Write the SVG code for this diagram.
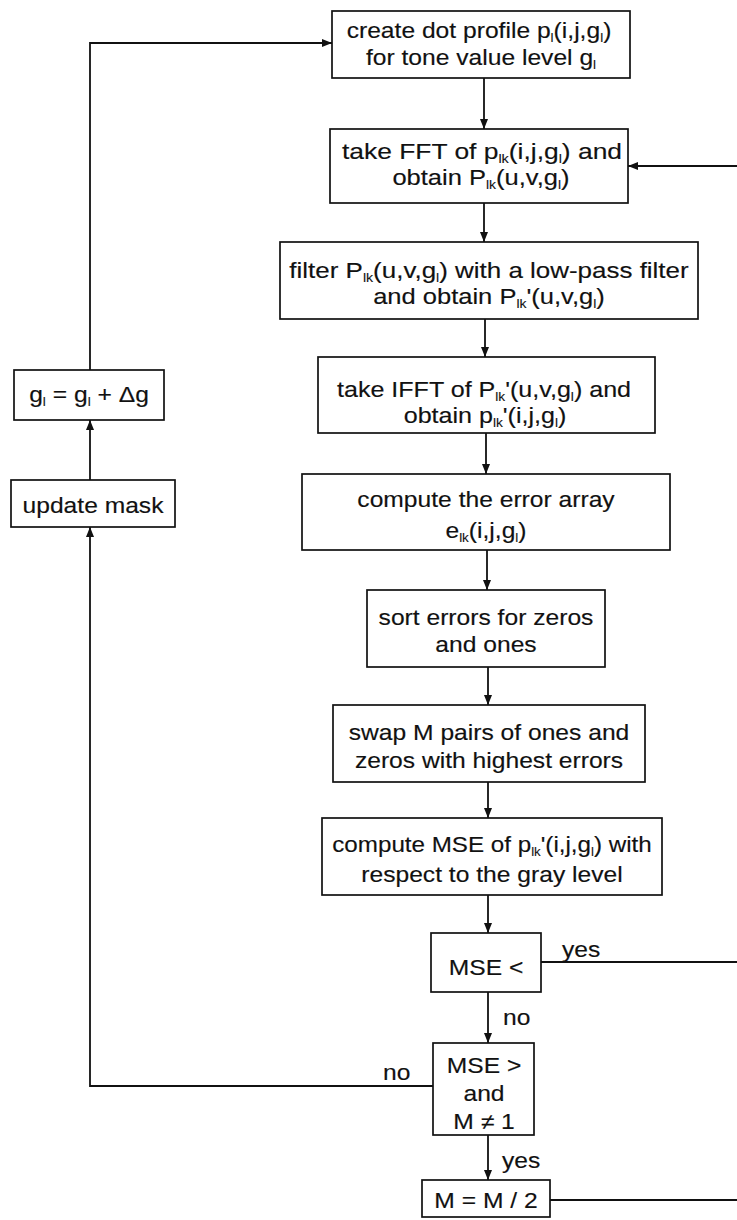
<svg xmlns="http://www.w3.org/2000/svg" width="737" height="1220" viewBox="0 0 737 1220">
  <style>
    .box { fill: #fff; stroke: #111; stroke-width: 1.7; }
    .wire { fill: none; stroke: #111; stroke-width: 1.8; }
    .t { font-family: "Liberation Sans", Arial, Helvetica, sans-serif; font-size: 22px; fill: #111; stroke: #111; stroke-width: 0.15; text-anchor: middle; }
    .lbl { font-family: "Liberation Sans", Arial, Helvetica, sans-serif; font-size: 22px; fill: #111; stroke: #111; stroke-width: 0.15; }
    .sb { font-size: 12px; stroke-width: 0.1; }
  </style>
  <defs>
    <marker id="arrow" markerWidth="10" markerHeight="8" refX="10" refY="4" orient="auto" markerUnits="userSpaceOnUse">
      <path d="M0,0 L10,4 L0,8 Z" fill="#111"/>
    </marker>
  </defs>
  <rect width="737" height="1220" fill="#fff"/>

  <!-- connectors -->
  <g id="connectors" class="wire">
    <path d="M484,78 V129" marker-end="url(#arrow)"/>
    <path d="M737,166 H628" marker-end="url(#arrow)"/>
    <path d="M484,203 V242" marker-end="url(#arrow)"/>
    <path d="M485,319 V357" marker-end="url(#arrow)"/>
    <path d="M486,433 V474" marker-end="url(#arrow)"/>
    <path d="M487,550 V590" marker-end="url(#arrow)"/>
    <path d="M488,667 V705" marker-end="url(#arrow)"/>
    <path d="M488,782 V818" marker-end="url(#arrow)"/>
    <path d="M488,895 V933" marker-end="url(#arrow)"/>
    <path d="M541,962 H737"/>
    <path d="M488,992 V1043" marker-end="url(#arrow)"/>
    <path d="M488,1135 V1180" marker-end="url(#arrow)"/>
    <path d="M550,1200 H737"/>
    <path d="M433,1086 H90 V527" marker-end="url(#arrow)"/>
    <path d="M90,480 V420" marker-end="url(#arrow)"/>
    <path d="M90,370 V43 H332" marker-end="url(#arrow)"/>
  </g>

  <!-- branch labels -->
  <g id="labels">
    <text class="lbl" transform="translate(562 957) scale(1.12 1)">yes</text>
    <text class="lbl" transform="translate(503 1025) scale(1.12 1)">no</text>
    <text class="lbl" transform="translate(383 1080) scale(1.12 1)">no</text>
    <text class="lbl" transform="translate(502 1168) scale(1.12 1)">yes</text>
  </g>

  <g id="create-profile">
    <rect class="box" x="332" y="11" width="298" height="67"/>
    <text class="t" transform="translate(479 38) scale(1.12 1)">create dot profile p<tspan class="sb" dy="4">l</tspan><tspan dy="-4">(i,j,g</tspan><tspan class="sb" dy="4">l</tspan><tspan dy="-4">)</tspan></text>
    <text class="t" transform="translate(481 65) scale(1.12 1)">for tone value level g<tspan class="sb" dy="4">l</tspan></text>
  </g>

  <g id="fft">
    <rect class="box" x="330" y="129" width="298" height="74"/>
    <text class="t" transform="translate(482 159) scale(1.2 1)">take FFT of p<tspan class="sb" dy="4">lk</tspan><tspan dy="-4">(i,j,g</tspan><tspan class="sb" dy="4">l</tspan><tspan dy="-4">) and</tspan></text>
    <text class="t" transform="translate(481 185) scale(1.16 1)">obtain P<tspan class="sb" dy="4">lk</tspan><tspan dy="-4">(u,v,g</tspan><tspan class="sb" dy="4">l</tspan><tspan dy="-4">)</tspan></text>
  </g>

  <g id="filter">
    <rect class="box" x="280" y="242" width="418" height="77"/>
    <text class="t" transform="translate(489 278) scale(1.18 1)">filter P<tspan class="sb" dy="4">lk</tspan><tspan dy="-4">(u,v,g</tspan><tspan class="sb" dy="4">l</tspan><tspan dy="-4">) with a low-pass filter</tspan></text>
    <text class="t" transform="translate(489 304) scale(1.16 1)">and obtain P<tspan class="sb" dy="4">lk</tspan><tspan dy="-4">'(u,v,g</tspan><tspan class="sb" dy="4">l</tspan><tspan dy="-4">)</tspan></text>
  </g>

  <g id="ifft">
    <rect class="box" x="318" y="357" width="337" height="76"/>
    <text class="t" transform="translate(484 397) scale(1.14 1)">take IFFT of P<tspan class="sb" dy="4">lk</tspan><tspan dy="-4">'(u,v,g</tspan><tspan class="sb" dy="4">l</tspan><tspan dy="-4">) and</tspan></text>
    <text class="t" transform="translate(485 423) scale(1.14 1)">obtain p<tspan class="sb" dy="4">lk</tspan><tspan dy="-4">'(i,j,g</tspan><tspan class="sb" dy="4">l</tspan><tspan dy="-4">)</tspan></text>
  </g>

  <g id="error-array">
    <rect class="box" x="302" y="474" width="368" height="76"/>
    <text class="t" transform="translate(486 507) scale(1.12 1)">compute the error array</text>
    <text class="t" transform="translate(486 538) scale(1.12 1)">e<tspan class="sb" dy="4">lk</tspan><tspan dy="-4">(i,j,g</tspan><tspan class="sb" dy="4">l</tspan><tspan dy="-4">)</tspan></text>
  </g>

  <g id="sort-errors">
    <rect class="box" x="367" y="590" width="238" height="77"/>
    <text class="t" transform="translate(486 625) scale(1.12 1)">sort errors for zeros</text>
    <text class="t" transform="translate(486 652) scale(1.12 1)">and ones</text>
  </g>

  <g id="swap-pairs">
    <rect class="box" x="333" y="705" width="312" height="77"/>
    <text class="t" transform="translate(489 740) scale(1.12 1)">swap M pairs of ones and</text>
    <text class="t" transform="translate(489 768) scale(1.12 1)">zeros with highest errors</text>
  </g>

  <g id="compute-mse">
    <rect class="box" x="322" y="818" width="340" height="77"/>
    <text class="t" transform="translate(492 852) scale(1.1 1)">compute MSE of p<tspan class="sb" dy="4">lk</tspan><tspan dy="-4">'(i,j,g</tspan><tspan class="sb" dy="4">l</tspan><tspan dy="-4">) with</tspan></text>
    <text class="t" transform="translate(492 882) scale(1.12 1)">respect to the gray level</text>
  </g>

  <g id="mse-below">
    <rect class="box" x="431" y="933" width="110" height="59"/>
    <text class="t" transform="translate(486 975) scale(1.12 1)">MSE &lt;</text>
  </g>

  <g id="mse-above">
    <rect class="box" x="433" y="1043" width="101" height="92"/>
    <text class="t" transform="translate(484 1073) scale(1.12 1)">MSE &gt;</text>
    <text class="t" transform="translate(484 1101) scale(1.12 1)">and</text>
    <text class="t" transform="translate(484 1129) scale(1.12 1)">M ≠ 1</text>
  </g>

  <g id="halve-m">
    <rect class="box" x="422" y="1180" width="128" height="37"/>
    <text class="t" transform="translate(486 1208) scale(1.12 1)">M = M / 2</text>
  </g>

  <g id="step-gray">
    <rect class="box" x="14" y="370" width="150" height="50"/>
    <text class="t" transform="translate(89 402) scale(1.12 1)">g<tspan class="sb" dy="4">l</tspan><tspan dy="-4"> = g</tspan><tspan class="sb" dy="4">l</tspan><tspan dy="-4"> + Δg</tspan></text>
  </g>

  <g id="update-mask">
    <rect class="box" x="11" y="480" width="164" height="47"/>
    <text class="t" transform="translate(93 513) scale(1.12 1)">update mask</text>
  </g>
</svg>
